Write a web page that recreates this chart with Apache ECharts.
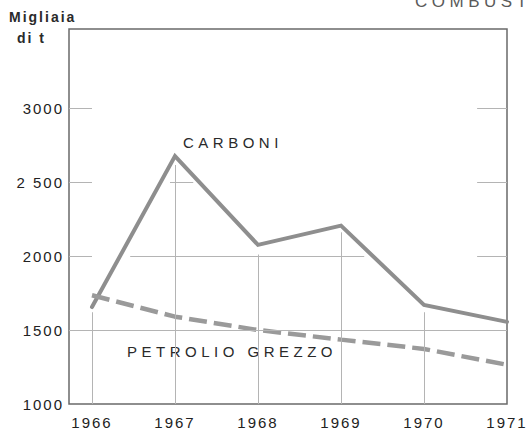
<!DOCTYPE html>
<html>
<head>
<meta charset="utf-8">
<script src="https://cdn.jsdelivr.net/npm/echarts@6/dist/echarts.min.js"></script>
<style>
  html, body { margin: 0; padding: 0; background: #ffffff; }
  #chart { width: 528px; height: 431px; }
  /* wide, typewriter-like spacing of the lettering */
  #chart text { letter-spacing: 2px; }
  #chart text[style*="Arial"] { letter-spacing: 4.5px; }
</style>
</head>
<body>
<div id="chart"></div>
<script>
// Production, thousands of tonnes
const years = [1966, 1967, 1968, 1969, 1970, 1971];
const carboni = [1655, 2675, 2075, 2205, 1670, 1555];
const petrolio = [1735, 1590, 1500, 1435, 1372, 1265];

const yTicks = [1000, 1500, 2000, 2500, 3000];
const yTickLabels = ['1000', '1500', '2000', '2 500', '3000'];
const xTickLabels = ['1966', '1967', '1968', '1969', '1970', '1971'];

const X_MIN = 1965.723;
const X_MAX = 1971;
const Y_MIN = 1000;
const Y_MAX = 3534;

// Hand-ruled guide segments: [x1, y1, x2, y2] in data units
const guides = [
  [X_MIN, 1500, X_MAX, 1500],
  [X_MIN, 2000, 1966, 2000],
  [1966.46, 2000, 1969.28, 2000],
  [1970.64, 2000, X_MAX, 2000],
  [X_MIN, 2500, 1966, 2500],
  [1966.94, 2500, 1967.22, 2500],
  [1970.64, 2500, X_MAX, 2500],
  [X_MIN, 3000, 1966, 3000],
  [1970.64, 3000, X_MAX, 3000],
  [1966, Y_MIN, 1966, 1620],
  [1967, Y_MIN, 1967, 2615],
  [1968, Y_MIN, 1968, 2010],
  [1969, Y_MIN, 1969, 2160],
  [1970, Y_MIN, 1970, 1620]
];

const chart = echarts.init(document.getElementById('chart'), null, { renderer: 'svg' });

const axisFont = {
  color: '#222222',
  fontFamily: 'Liberation Sans',
  fontSize: 15
};
const noteFont = "15px 'Liberation Sans', Arial, sans-serif";

chart.setOption({
  animation: false,
  backgroundColor: '#ffffff',
  grid: {
    left: 69, top: 29, width: 438, height: 375,
    show: true,
    borderColor: '#6a6a6a',
    borderWidth: 1.5,
    backgroundColor: 'transparent'
  },
  xAxis: {
    type: 'value',
    min: X_MIN,
    max: X_MAX,
    axisLine: { show: false },
    axisTick: { show: false },
    splitLine: { show: false },
    axisLabel: Object.assign({
      customValues: years,
      margin: 11,
      formatter: (v) => xTickLabels[years.indexOf(Math.round(v))] || ''
    }, axisFont)
  },
  yAxis: {
    type: 'value',
    min: Y_MIN,
    max: Y_MAX,
    axisLine: { show: false },
    axisTick: { show: false },
    splitLine: { show: false },
    axisLabel: Object.assign({
      customValues: yTicks,
      margin: 5,
      formatter: (v) => yTickLabels[yTicks.indexOf(Math.round(v))] || ''
    }, axisFont)
  },
  series: [
    {
      name: 'guides',
      type: 'line',
      data: [],
      silent: true,
      z: 1,
      markLine: {
        silent: true,
        symbol: ['none', 'none'],
        label: { show: false },
        lineStyle: { color: '#b4b4b4', width: 1, type: 'solid' },
        data: guides.map(g => [{ coord: [g[0], g[1]] }, { coord: [g[2], g[3]] }])
      }
    },
    {
      name: 'CARBONI',
      type: 'line',
      data: years.map((y, i) => [y, carboni[i]]),
      showSymbol: false,
      z: 3,
      lineStyle: { color: '#8e8e8e', width: 4, cap: 'round', join: 'miter' }
    },
    {
      name: 'PETROLIO GREZZO',
      type: 'line',
      data: years.map((y, i) => [y, petrolio[i]]),
      showSymbol: false,
      z: 3,
      lineStyle: { color: '#9a9a9a', width: 4.5, type: [18, 7] }
    }
  ],
  graphic: [
    {
      type: 'text', left: 415, top: -7,
      style: { text: 'COMBUSTIBILI', font: "17px 'Liberation Sans', Arial, sans-serif", fill: '#5a5a5a' }
    },
    {
      type: 'text', left: 9, top: 10,
      style: { text: 'Migliaia', font: "bold 14px 'Liberation Sans'", fill: '#2a2a2a' }
    },
    {
      type: 'text', left: 17, top: 31,
      style: { text: 'di t', font: "bold 14px 'Liberation Sans'", fill: '#2a2a2a' }
    },
    {
      type: 'text', left: 183, top: 135,
      style: { text: 'CARBONI', font: noteFont, fill: '#2a2a2a' }
    },
    {
      type: 'text', left: 127, top: 344,
      style: { text: 'PETROLIO GREZZO', font: noteFont, fill: '#2a2a2a' }
    }
  ]
});
</script>
</body>
</html>
